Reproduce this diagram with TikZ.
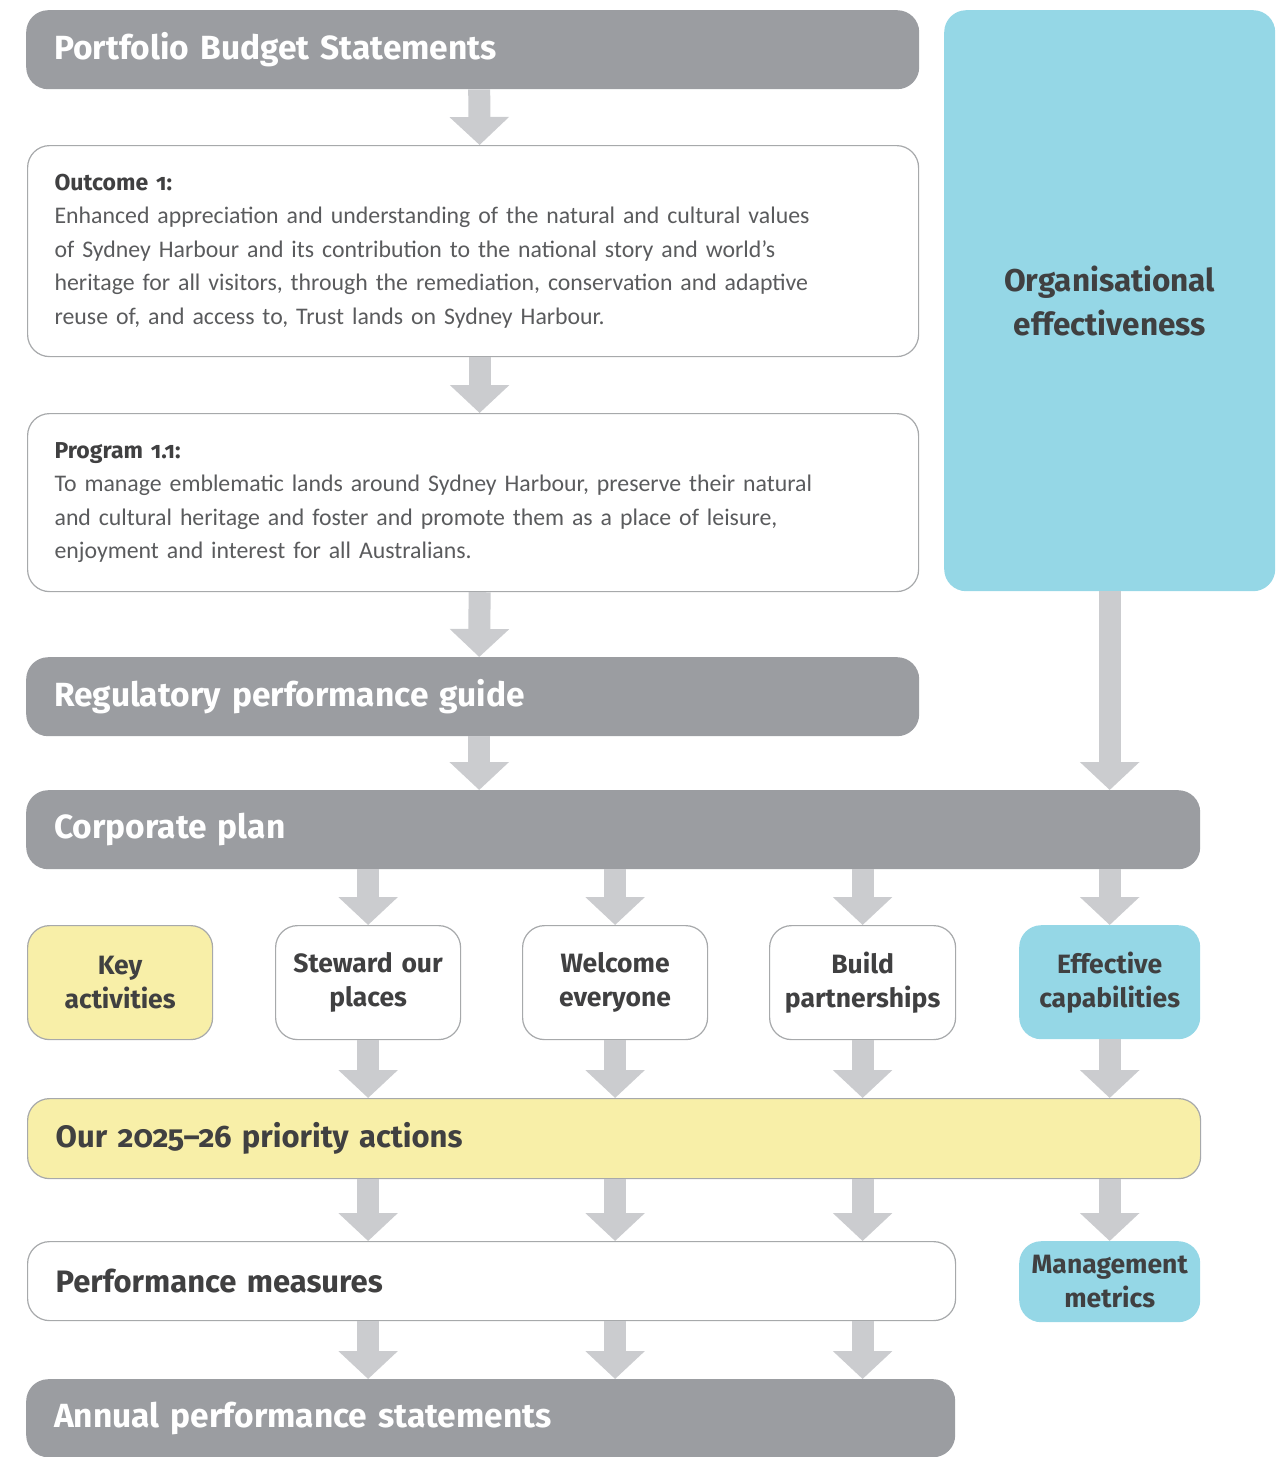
\documentclass[tikz,border=0pt]{standalone}
\usepackage{fontspec}
\usepackage{tikz}
\usetikzlibrary{arrows.meta}
\newfontfamily\headfont[Numbers=OldStyle]{Fira Sans}
\newfontfamily\bodyfont{Carlito}
\definecolor{boxgrey}{HTML}{9B9DA1}
\definecolor{arrowgrey}{HTML}{CBCCCF}
\definecolor{sky}{HTML}{95D7E6}
\definecolor{lemon}{HTML}{F8EFA8}
\definecolor{edgegrey}{HTML}{A7A9AB}
\definecolor{inkdark}{HTML}{404041}
\definecolor{inkbody}{HTML}{5A5B5D}
\tikzset{
  box/.style={rounded corners=22pt, anchor=north west, inner ysep=0pt},
  bigbox/.style={box, fill=boxgrey, text=white, inner xsep=28pt, align=left,
    minimum height=79pt, font=\headfont\bfseries\fontsize{33.5}{40}\selectfont},
  darkbox/.style={bigbox, draw=edgegrey, line width=1.2pt, text=inkdark,
    font=\headfont\bfseries\fontsize{31}{37}\selectfont},
  textbox/.style={box, draw=edgegrey, line width=1.2pt, fill=white, text=inkbody,
    inner xsep=27pt, align=left, font=\bodyfont\fontsize{23.8}{33.5}\selectfont},
  smallbox/.style={box, inner xsep=0pt, align=center, text=inkdark,
    minimum height=114pt, font=\headfont\bfseries\fontsize{26.5}{34}\selectfont},
  fat/.style={draw=arrowgrey, line width=22pt, -{Triangle[width=58pt,length=28pt]}}
}
\newcommand\boxhead[1]{{\headfont\bfseries\color{inkdark}\fontsize{23}{33.5}\selectfont #1}}
\begin{document}
\begin{tikzpicture}[x=1pt,y=-1pt]
\useasboundingbox (0,0) rectangle (1288,1457);
% left column
\node[bigbox, text width=837pt] (pbs) at (26,10) {Portfolio Budget Statements};
\node[textbox, text width=837pt, minimum height=211pt] (outcome) at (27,145)
  {\boxhead{Outcome 1:}\\
   Enhanced appreciation and understanding of the natural and cultural values\\
   of Sydney Harbour and its contribution to the national story and world’s\\
   heritage for all visitors, through the remediation, conservation and adaptive\\
   reuse of, and access to, Trust lands on Sydney Harbour.};
\node[textbox, text width=837pt, minimum height=178pt] (program) at (27,413)
  {\boxhead{Program 1.1:}\\
   To manage emblematic lands around Sydney Harbour, preserve their natural\\
   and cultural heritage and foster and promote them as a place of leisure,\\
   enjoyment and interest for all Australians.};
\node[bigbox, text width=837pt] (reg) at (26,657) {Regulatory performance guide};
% right column
\node[box, fill=sky, text=inkdark, minimum width=331pt, minimum height=581pt,
  align=center, font=\headfont\bfseries\fontsize{31.5}{44}\selectfont] (org) at (944,10)
  {Organisational\\effectiveness};
\node[bigbox, text width=1118pt] (corp) at (26,790) {Corporate plan};
% themes
\node[smallbox, fill=lemon, draw=edgegrey, line width=1.2pt, text width=185pt] (key) at (27,925) {Key\\activities};
\node[smallbox, fill=white, draw=edgegrey, line width=1.2pt, text width=185pt] (steward) at (275,925) {Steward our\\places};
\node[smallbox, fill=white, draw=edgegrey, line width=1.2pt, text width=185pt] (welcome) at (522,925) {Welcome\\everyone};
\node[smallbox, fill=white, draw=edgegrey, line width=1.2pt, text width=186pt] (build) at (769,925) {Build\\partnerships};
\node[smallbox, fill=sky, text width=181pt] (effective) at (1019,925) {Effective\\capabilities};
\node[darkbox, fill=lemon, text width=1117pt, minimum height=80pt] (prio) at (27,1098) {Our 2025–26 priority actions};
\node[darkbox, fill=white, text width=872pt] (perf) at (27,1241) {Performance measures};
\node[smallbox, fill=sky, text width=181pt, minimum height=81pt] (mgmt) at (1019,1241) {Management\\metrics};
\node[bigbox, text width=873pt, minimum height=78pt] (annual) at (26,1379) {Annual performance statements};
% arrows
\draw[fat] ([xshift=6.5pt]pbs.south) -- ([xshift=6.5pt]outcome.north);
\draw[fat] ([xshift=6.5pt]outcome.south) -- ([xshift=6.5pt]program.north);
\draw[fat] ([xshift=6.5pt]program.south) -- ([xshift=6.5pt]reg.north);
\draw[fat] ([xshift=6.5pt]reg.south) -- ([xshift=6.5pt]reg.south |- corp.north);
\draw[fat] (org) -- (org.south |- corp.north);
\foreach \t in {steward,welcome,build,effective} {
  \draw[fat] (corp.south -| \t.north) -- (\t.north);
  \draw[fat] (\t.south) -- (prio.north -| \t.south);
}
\foreach \t in {steward,welcome,build} {
  \draw[fat] (prio.south -| \t.south) -- (perf.north -| \t.south);
  \draw[fat] (perf.south -| \t.south) -- (annual.north -| \t.south);
}
\draw[fat] (prio.south -| mgmt.north) -- (mgmt);
\end{tikzpicture}
\end{document}
